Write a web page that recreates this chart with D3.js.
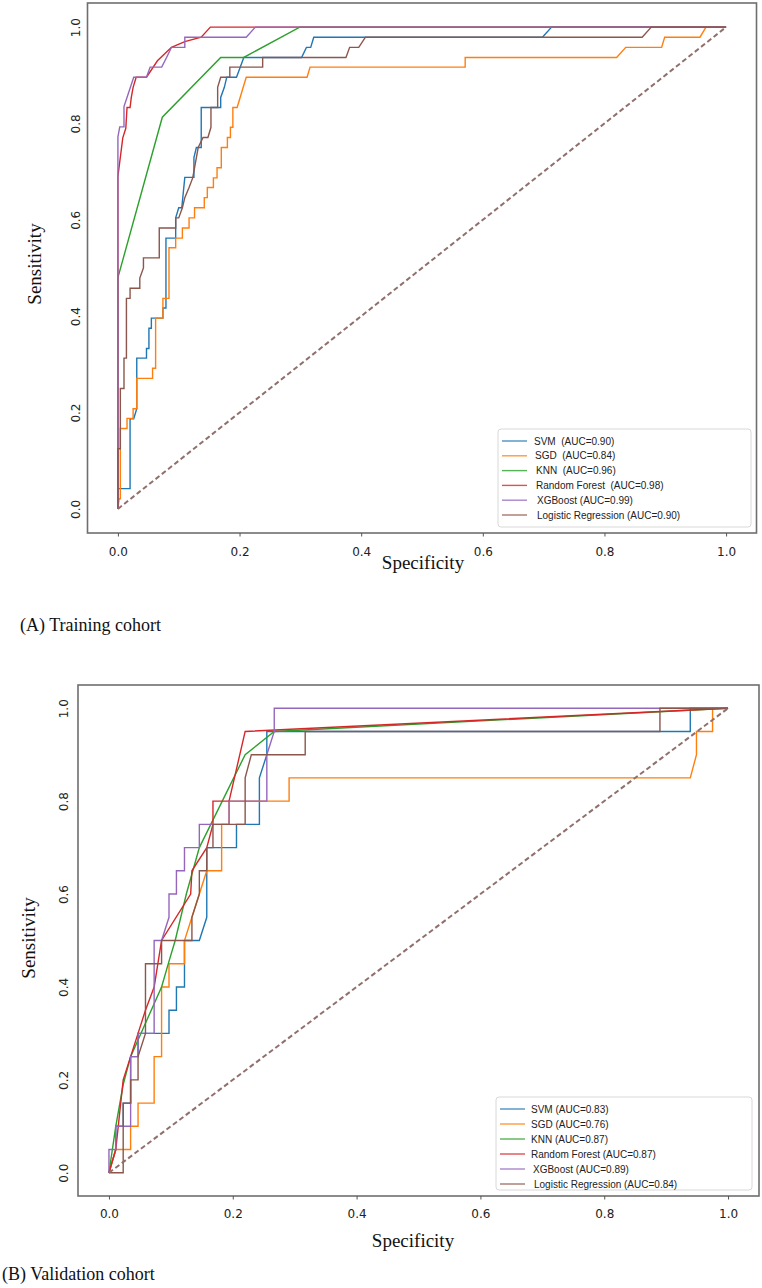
<!DOCTYPE html>
<html>
<head>
<meta charset="utf-8">
<script src="https://d3js.org/d3.v7.min.js"></script>
<style>
  body { margin: 0; background: #fff; }
  svg { display: block; }
  .tick text { font-family: "DejaVu Sans", sans-serif; font-size: 12px; fill: #222; }
  .tick line { stroke: #555; }
  .axis-title { font-family: "Liberation Serif", "Times New Roman", serif; font-size: 19px; fill: #111; }
  .caption { font-family: "Liberation Serif", "Times New Roman", serif; font-size: 18px; fill: #111; }
  .legend text { font-family: "Liberation Sans", Arial, sans-serif; font-size: 10px; fill: #222; white-space: pre; }
</style>
</head>
<body>
<div class="chart"></div>
<script>
// model names and AUC values
var models = ["SVM", "SGD", "KNN", "Random Forest", "XGBoost", "Logistic Regression"];
var trainLabels = ["SVM  (AUC=0.90)", "SGD  (AUC=0.84)", "KNN  (AUC=0.96)", "Random Forest  (AUC=0.98)", "XGBoost (AUC=0.99)", "Logistic Regression (AUC=0.90)"];
var validLabels = ["SVM (AUC=0.83)", "SGD (AUC=0.76)", "KNN (AUC=0.87)", "Random Forest (AUC=0.87)", "XGBoost (AUC=0.89)", "Logistic Regression (AUC=0.84)"];
var xTicks = [0, 0.2, 0.4, 0.6, 0.8, 1.0];
var yTicks = [0, 0.2, 0.4, 0.6, 0.8, 1.0];

// training cohort curves, [x, sensitivity]
var trainSVM = [[0,0],[0,0.042],[0.02,0.042],[0.02,0.187],[0.026,0.187],[0.031,0.208],[0.031,0.313],[0.047,0.313],[0.047,0.333],[0.051,0.333],[0.051,0.375],[0.055,0.375],[0.055,0.396],[0.074,0.396],[0.074,0.417],[0.079,0.417],[0.079,0.562],[0.095,0.562],[0.095,0.604],[0.1,0.625],[0.105,0.625],[0.11,0.688],[0.125,0.688],[0.125,0.729],[0.129,0.75],[0.137,0.75],[0.137,0.833],[0.169,0.833],[0.169,0.854],[0.175,0.875],[0.179,0.896],[0.195,0.896],[0.207,0.937],[0.302,0.937],[0.31,0.958],[0.317,0.958],[0.322,0.979],[0.698,0.979],[0.713,1],[1,1]];
var trainSGD = [[0,0],[0.002,0.021],[0.004,0.021],[0.004,0.167],[0.015,0.167],[0.015,0.188],[0.025,0.188],[0.025,0.208],[0.031,0.208],[0.031,0.271],[0.057,0.271],[0.057,0.292],[0.062,0.292],[0.062,0.396],[0.074,0.396],[0.074,0.437],[0.084,0.437],[0.084,0.542],[0.095,0.542],[0.095,0.562],[0.106,0.562],[0.106,0.583],[0.117,0.583],[0.117,0.604],[0.126,0.604],[0.126,0.625],[0.142,0.625],[0.142,0.646],[0.147,0.646],[0.147,0.667],[0.157,0.667],[0.157,0.687],[0.163,0.687],[0.163,0.708],[0.17,0.708],[0.17,0.75],[0.18,0.75],[0.18,0.771],[0.185,0.771],[0.185,0.792],[0.189,0.792],[0.189,0.833],[0.196,0.833],[0.201,0.854],[0.206,0.875],[0.211,0.896],[0.311,0.896],[0.316,0.917],[0.571,0.917],[0.571,0.937],[0.82,0.937],[0.835,0.958],[0.894,0.958],[0.899,0.979],[0.957,0.979],[0.967,1],[1,1]];
var trainKNN = [[0,0],[0,0.48],[0.073,0.813],[0.169,0.937],[0.207,0.937],[0.299,1],[1,1]];
var trainRF = [[0,0],[0,0.69],[0.008,0.77],[0.013,0.79],[0.015,0.833],[0.02,0.833],[0.022,0.854],[0.025,0.875],[0.03,0.896],[0.047,0.896],[0.065,0.93],[0.088,0.958],[0.11,0.97],[0.137,0.979],[0.152,1],[1,1]];
var trainXGB = [[0,0],[0,0.772],[0.003,0.793],[0.01,0.793],[0.01,0.835],[0.026,0.896],[0.047,0.896],[0.053,0.917],[0.072,0.917],[0.08,0.937],[0.088,0.958],[0.11,0.958],[0.11,0.979],[0.211,0.979],[0.226,1],[1,1]];
var trainLR = [[0,0],[0,0.125],[0.004,0.125],[0.004,0.25],[0.01,0.25],[0.01,0.313],[0.014,0.313],[0.014,0.437],[0.02,0.437],[0.02,0.458],[0.036,0.458],[0.036,0.479],[0.042,0.5],[0.042,0.521],[0.068,0.521],[0.068,0.583],[0.095,0.583],[0.095,0.604],[0.1,0.604],[0.106,0.625],[0.11,0.646],[0.117,0.667],[0.123,0.687],[0.126,0.708],[0.132,0.75],[0.14,0.771],[0.148,0.771],[0.153,0.792],[0.153,0.833],[0.164,0.833],[0.164,0.875],[0.169,0.896],[0.184,0.896],[0.184,0.917],[0.238,0.917],[0.238,0.937],[0.375,0.937],[0.381,0.958],[0.396,0.958],[0.407,0.979],[0.862,0.979],[0.877,1],[1,1]];

// validation cohort curves
var validSVM = [[0,0],[0.011,0.05],[0.011,0.1],[0.023,0.1],[0.023,0.15],[0.035,0.15],[0.035,0.25],[0.047,0.25],[0.047,0.3],[0.097,0.3],[0.097,0.35],[0.109,0.35],[0.109,0.4],[0.122,0.4],[0.122,0.5],[0.146,0.5],[0.158,0.55],[0.158,0.7],[0.206,0.7],[0.206,0.75],[0.243,0.75],[0.243,0.85],[0.255,0.9],[0.255,0.95],[0.939,0.95],[0.939,1],[1,1]];
var validSGD = [[0,0],[0.011,0.05],[0.035,0.05],[0.035,0.1],[0.047,0.1],[0.047,0.15],[0.073,0.15],[0.073,0.25],[0.085,0.25],[0.085,0.4],[0.097,0.4],[0.097,0.45],[0.122,0.45],[0.122,0.5],[0.134,0.55],[0.146,0.6],[0.158,0.65],[0.182,0.65],[0.182,0.75],[0.194,0.75],[0.194,0.8],[0.291,0.8],[0.291,0.85],[0.939,0.85],[0.949,0.9],[0.949,0.95],[0.975,0.95],[0.975,1],[1,1]];
var validKNN = [[0,0],[0.011,0.1],[0.023,0.19],[0.035,0.25],[0.055,0.31],[0.085,0.4],[0.098,0.46],[0.107,0.5],[0.125,0.6],[0.146,0.7],[0.22,0.9],[0.267,0.95],[1,1]];
var validRF = [[0,0],[0.011,0.05],[0.023,0.2],[0.035,0.25],[0.047,0.3],[0.059,0.35],[0.073,0.4],[0.085,0.5],[0.132,0.6],[0.134,0.65],[0.158,0.7],[0.168,0.75],[0.168,0.8],[0.194,0.8],[0.22,0.95],[1,1]];
var validXGB = [[0,0],[0,0.05],[0.011,0.05],[0.011,0.1],[0.035,0.1],[0.035,0.25],[0.047,0.25],[0.047,0.3],[0.073,0.3],[0.073,0.5],[0.085,0.5],[0.097,0.55],[0.097,0.6],[0.109,0.6],[0.109,0.65],[0.122,0.65],[0.122,0.7],[0.146,0.7],[0.146,0.75],[0.194,0.75],[0.194,0.8],[0.255,0.8],[0.255,0.9],[0.267,0.95],[0.267,1],[1,1]];
var validLR = [[0,0],[0.023,0],[0.023,0.15],[0.035,0.15],[0.035,0.2],[0.047,0.2],[0.047,0.25],[0.059,0.3],[0.059,0.45],[0.085,0.45],[0.085,0.5],[0.134,0.5],[0.134,0.55],[0.146,0.6],[0.146,0.65],[0.158,0.65],[0.158,0.7],[0.168,0.7],[0.168,0.75],[0.22,0.75],[0.22,0.85],[0.23,0.9],[0.317,0.9],[0.317,0.95],[0.89,0.95],[0.89,1],[1,1]];

var chance = [[0,0],[1,1]];

var colors = ["#1f77b4", "#ff7f0e", "#2ca02c", "#d62728", "#9467bd", "#8c564b"];

var svg = d3.select(".chart").append("svg")
    .attr("width", 762)
    .attr("height", 1288);

function drawPanel(p) {
    var x = d3.scaleLinear().domain([-0.05, 1.05]).range([p.left, p.left + p.width]);
    var y = d3.scaleLinear().domain([-0.05, 1.05]).range([p.top + p.height, p.top]);

    var g = svg.append("g");

    var line = d3.line()
        .x(function(d){ return x(d[0]); })
        .y(function(d){ return y(d[1]); });

    g.selectAll(".roc")
        .data(p.curves)
        .enter().append("path")
        .attr("class", "roc")
        .attr("d", line)
        .attr("fill", "none")
        .attr("stroke", function(d, i){ return colors[i]; })
        .attr("stroke-width", 1.4);

    // chance line
    g.append("path")
        .attr("d", line(chance))
        .attr("fill", "none")
        .attr("stroke", "#8f706d")
        .attr("stroke-width", 2)
        .attr("stroke-dasharray", "5,3");

    // frame
    g.append("rect")
        .attr("x", p.left).attr("y", p.top)
        .attr("width", p.width).attr("height", p.height)
        .attr("fill", "none")
        .attr("stroke", "#6e6e6e")
        .attr("stroke-width", 1.6);

    var xAxis = d3.axisBottom(x).tickValues(xTicks).tickFormat(d3.format(".1f"))
        .tickSize(3.5).tickPadding(p.xPad);
    g.append("g")
        .attr("transform", "translate(0," + (p.top + p.height) + ")")
        .call(xAxis)
        .call(function(a){ a.select(".domain").remove(); });

    var yAxis = d3.axisLeft(y).tickValues(yTicks).tickFormat(d3.format(".1f")).tickSize(0);
    g.append("g")
        .attr("transform", "translate(" + p.left + ",0)")
        .call(yAxis)
        .call(function(a){ a.select(".domain").remove(); })
        .selectAll("text")
        .attr("x", 0).attr("y", 0).attr("dy", 0)
        .style("text-anchor", "middle")
        .attr("transform", "translate(" + (-p.yPad) + ",0) rotate(-90)");

    g.append("text")
        .attr("class", "axis-title")
        .attr("x", p.xTitle[0]).attr("y", p.xTitle[1])
        .style("text-anchor", "middle")
        .text("Specificity");

    g.append("text")
        .attr("class", "axis-title")
        .attr("transform", "translate(" + p.yTitle[0] + "," + p.yTitle[1] + ") rotate(-90)")
        .style("text-anchor", "middle")
        .text("Sensitivity");

    g.append("text")
        .attr("class", "caption")
        .attr("x", p.caption[0]).attr("y", p.caption[1])
        .text(p.captionText);

    // legend
    var lg = g.append("g").attr("class", "legend");
    lg.append("rect")
        .attr("x", p.legend.x).attr("y", p.legend.y)
        .attr("width", p.legend.w).attr("height", p.legend.h)
        .attr("rx", 3)
        .attr("fill", "#fff")
        .attr("stroke", "#d8d8d8");

    var rows = lg.selectAll(".row")
        .data(p.labels)
        .enter().append("g")
        .attr("class", "row")
        .attr("transform", function(d, i){ return "translate(" + (p.legend.x + 4) + "," + (p.legend.y + 12 + i * p.legend.step) + ")"; });

    rows.append("line")
        .attr("x1", 0).attr("x2", 25)
        .attr("stroke", function(d, i){ return colors[i]; })
        .attr("stroke-opacity", 0.8)
        .attr("stroke-width", 1.4);

    rows.append("text")
        .attr("x", function(d, i){ return p.textOff[i]; })
        .attr("y", 3.5)
        .text(function(d){ return d; });
}

drawPanel({
    left: 87.5, top: 3, width: 669, height: 530,
    curves: [trainSVM, trainSGD, trainKNN, trainRF, trainXGB, trainLR],
    labels: trainLabels,
    xPad: 11, yPad: 7.5,
    xTitle: [423, 569], yTitle: [41, 264],
    caption: [20, 631], captionText: "(A) Training cohort",
    legend: {x: 498, y: 429, w: 253, h: 98, step: 14.8},
    textOff: [32, 33, 34, 34, 35, 35]
});

drawPanel({
    left: 78, top: 685, width: 681, height: 511,
    curves: [validSVM, validSGD, validKNN, validRF, validXGB, validLR],
    labels: validLabels,
    xPad: 10, yPad: 10,
    xTitle: [413, 1247], yTitle: [35, 938],
    caption: [2, 1280], captionText: "(B) Validation cohort",
    legend: {x: 496, y: 1097, w: 256, h: 93, step: 15},
    textOff: [31, 31, 31, 31, 33, 34]
});
</script>
</body>
</html>
